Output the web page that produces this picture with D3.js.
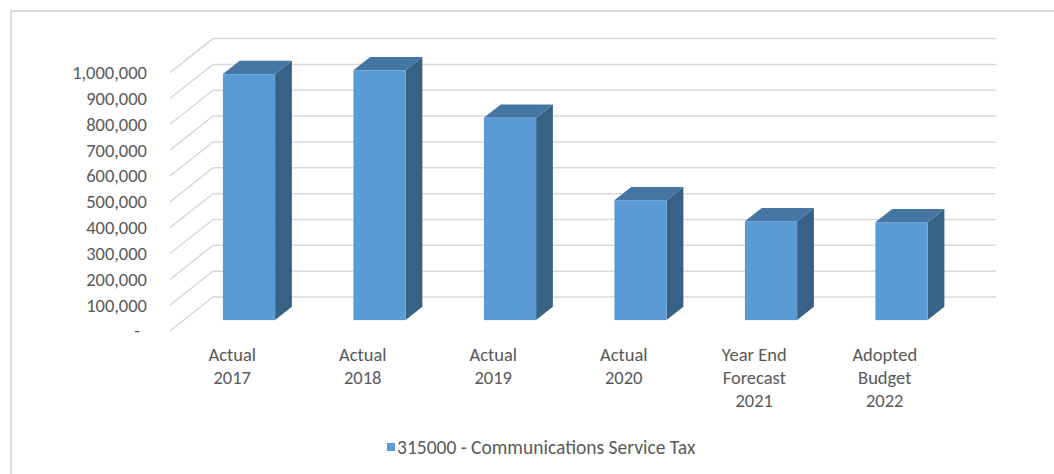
<!DOCTYPE html>
<html>
<head>
<meta charset="utf-8">
<script src="https://cdn.jsdelivr.net/npm/d3@7"></script>
<style>
  html, body { margin: 0; padding: 0; background: #ffffff; }
  svg { display: block; }
  text { font-family: Carlito, Calibri, Lato, "Open Sans", sans-serif; fill: #595959; }
</style>
</head>
<body>
<svg id="chart" width="1054" height="474"></svg>
<script>
// Communications Service Tax by fiscal year
const categories = [
  ["Actual", "2017"],
  ["Actual", "2018"],
  ["Actual", "2019"],
  ["Actual", "2020"],
  ["Year End", "Forecast", "2021"],
  ["Adopted", "Budget", "2022"]
];
const values = [952000, 967000, 783000, 464000, 383000, 379000];
const yTicks = [0, 100000, 200000, 300000, 400000, 500000, 600000, 700000, 800000, 900000, 1000000];
const seriesName = "315000 - Communications Service Tax";

const svg = d3.select("#chart");
const W = 1054, H = 474;
const fontSize = 18.5;

// Oblique 3D projection: depth z in [0,1] shifts a point right and up
const depthX = 43, depthY = 34;
const x = d3.scaleBand()
  .domain(categories.map((d, i) => i))
  .range([170, 953])
  .paddingInner(0.6)
  .paddingOuter(0.3);
const y = d3.scaleLinear().domain([0, 1000000]).range([331, 72.6]);
const proj = (px, v, z) => [px + depthX * z, y(v) - depthY * z];

// Outer chart frame
svg.append("path")
  .attr("d", `M11,${H + 5} V11 H${W + 5}`)
  .attr("fill", "none")
  .attr("stroke", "#d9d9d9")
  .attr("stroke-width", 2);

// Gridlines: floor diagonal on the left side, then across the back wall
const x0 = x.range()[0], x1 = x.range()[1];
const grid = svg.append("g").attr("fill", "none").attr("stroke", "#d9d9d9").attr("stroke-width", 1.5);
yTicks.forEach(t => {
  const a = proj(x0, t, 0), b = proj(x0, t, 1), c = proj(x1, t, 1);
  grid.append("path").attr("d", `M${a[0]},${a[1]} L${b[0]},${b[1]} L${c[0]},${c[1]}`);
});

// Y axis labels
const fmt = d => d === 0 ? "-" : d3.format(",")(d);
svg.append("g").selectAll("text").data(yTicks).join("text")
  .attr("x", d => d === 0 ? 140 : 147)
  .attr("y", d => y(d))
  .attr("dy", "0.35em")
  .attr("text-anchor", "end")
  .attr("font-size", fontSize)
  .text(fmt);

// 3D bars: side, top, front
const zA = 0.32, zB = 0.71;
const poly = pts => "M" + pts.map(p => p.join(",")).join("L") + "Z";
const bars = svg.append("g");
values.forEach((v, i) => {
  const l = x(i), r = x(i) + x.bandwidth();
  const g = bars.append("g");
  g.append("path").attr("fill", "#376286")
    .attr("d", poly([proj(r, v, zA), proj(r, v, zB), proj(r, 0, zB), proj(r, 0, zA)]));
  g.append("path").attr("fill", "#4475a3")
    .attr("d", poly([proj(l, v, zA), proj(l, v, zB), proj(r, v, zB), proj(r, v, zA)]));
  const f0 = proj(l, v, zA), f1 = proj(r, 0, zA);
  g.append("rect").attr("fill", "#5b9bd5")
    .attr("x", f0[0]).attr("y", f0[1])
    .attr("width", f1[0] - f0[0]).attr("height", f1[1] - f0[1]);
});

// Category labels
svg.append("g").selectAll("text").data(categories).join("text")
  .attr("text-anchor", "middle")
  .attr("font-size", fontSize)
  .attr("y", 361)
  .each(function(lines, i) {
    const cx = x(i) + x.bandwidth() / 2 - 3;
    d3.select(this).selectAll("tspan").data(lines).join("tspan")
      .attr("x", cx)
      .attr("dy", (d, k) => k === 0 ? 0 : 23)
      .text(d => d);
  });

// Legend
const legend = svg.append("g");
legend.append("rect").attr("x", 387).attr("y", 443).attr("width", 8).attr("height", 8).attr("fill", "#5b9bd5");
legend.append("text").attr("x", 397).attr("y", 447).attr("dy", "0.35em")
  .attr("font-size", 19.5).text(seriesName);
</script>
</body>
</html>
